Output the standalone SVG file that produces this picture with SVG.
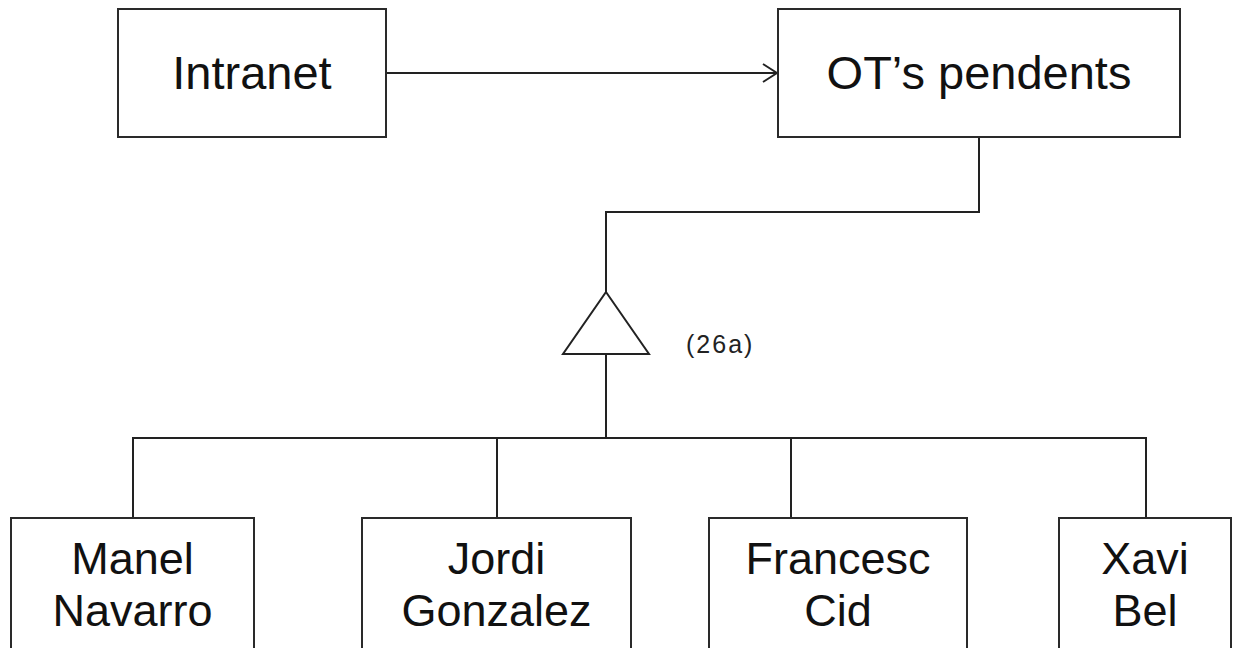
<svg xmlns="http://www.w3.org/2000/svg" width="1239" height="648" viewBox="0 0 1239 648">
  <defs>
    <marker id="open-arrow" viewBox="0 0 16 20" refX="15" refY="10" markerWidth="16" markerHeight="20" markerUnits="userSpaceOnUse" orient="auto">
      <path d="M1,1 L15,10 L1,19" fill="none" stroke="#222" stroke-width="2"/>
    </marker>
  </defs>
  <style>
    .box { fill: #ffffff; stroke: #2a2a2a; stroke-width: 2; }
    .wire { fill: none; stroke: #222; stroke-width: 2; }
    .label { font-family: "Liberation Sans", Arial, sans-serif; fill: #111; text-anchor: middle; }
    .big { font-size: 47px; }
    .name { font-size: 45px; }
    .note { font-family: "Liberation Sans", Arial, sans-serif; fill: #222; font-size: 25px; letter-spacing: 2px; }
  </style>

  <rect width="1239" height="648" fill="#ffffff"/>

  <!-- connectors -->
  <g id="connectors">
    <path class="wire" d="M386,73 H777" marker-end="url(#open-arrow)"/>
    <path class="wire" d="M979,137 V212 H606 V292"/>
    <polygon class="wire" points="606,292 649,354 563,354"/>
    <path class="wire" d="M606,354 V438"/>
    <path class="wire" d="M133,518 V438 H1146 V518"/>
    <path class="wire" d="M497,438 V518"/>
    <path class="wire" d="M791,438 V518"/>
    <text class="note" x="686" y="353">(26a)</text>
  </g>

  <g id="intranet">
    <rect class="box" x="118" y="9" width="268" height="128"/>
    <text class="label big" x="252" y="89">Intranet</text>
  </g>

  <g id="ot-pendents">
    <rect class="box" x="778" y="9" width="402" height="128"/>
    <text class="label big" x="979" y="89">OT’s pendents</text>
  </g>

  <g id="manel-navarro">
    <rect class="box" x="11" y="518" width="243" height="140"/>
    <text class="label name" x="132.5" y="574">Manel</text>
    <text class="label name" x="132.5" y="626">Navarro</text>
  </g>

  <g id="jordi-gonzalez">
    <rect class="box" x="362" y="518" width="269" height="140"/>
    <text class="label name" x="496.5" y="574">Jordi</text>
    <text class="label name" x="496.5" y="626">Gonzalez</text>
  </g>

  <g id="francesc-cid">
    <rect class="box" x="709" y="518" width="258" height="140"/>
    <text class="label name" x="838" y="574">Francesc</text>
    <text class="label name" x="838" y="626">Cid</text>
  </g>

  <g id="xavi-bel">
    <rect class="box" x="1059" y="518" width="172" height="140"/>
    <text class="label name" x="1145" y="574">Xavi</text>
    <text class="label name" x="1145" y="626">Bel</text>
  </g>
</svg>
